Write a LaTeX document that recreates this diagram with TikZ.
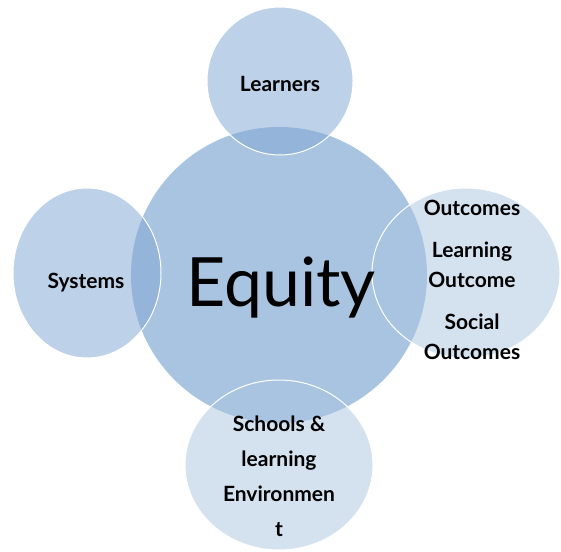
\documentclass[tikz,border=0pt]{standalone}
\usepackage{fontspec}
\setmainfont{Lato}
\usepackage{tikz}

\definecolor{hubblue}{HTML}{A9C4E0}
\definecolor{darkblue}{HTML}{82A8D3}

\tikzset{
  hub/.style={fill=hubblue},
  darkring/.style={fill=darkblue, fill opacity=0.53, draw=white, line width=1pt},
  lightring/.style={fill=hubblue, fill opacity=0.5, draw=white, line width=1pt},
  lbl/.style={font=\bfseries\fontsize{21}{30}\selectfont, align=center}
}

\begin{document}
\begin{tikzpicture}[x=1pt,y=1pt]
  % khung
  \useasboundingbox (0,0) rectangle (561,-551);
  % tam cac hinh tron
  \coordinate (E) at (279,-275);
  \coordinate (L) at (280,-81);
  \coordinate (S) at (87,-273);
  \coordinate (O) at (466,-273);
  \coordinate (B) at (279,-465);
  % hinh tron lon
  \fill[hub] (E) circle (148);
  % cac hinh tron nho
  \filldraw[darkring] (L) ellipse (73 and 74);
  \filldraw[darkring] (S) ellipse (74 and 85);
  \filldraw[lightring] (O) ellipse (94 and 85);
  \filldraw[lightring] (B) ellipse (94 and 85);
  % nhan
  \node[font=\fontsize{68}{72}\selectfont, anchor=base] (equity) at (281,-306) {Equity};
  \node[lbl, anchor=base] (learners) at (280,-91) {Learners};
  \node[lbl, anchor=base] (systems) at (86,-288) {Systems};
  \node[lbl] (outcomes) at (472,-280) {Outcomes\\[12pt]Learning\\Outcome\\[12pt]Social\\Outcomes};
  \node[lbl, font=\bfseries\fontsize{21}{35}\selectfont] (schools) at (279,-476) {Schools \&\\learning\\Environmen\\t};
\end{tikzpicture}
\end{document}
